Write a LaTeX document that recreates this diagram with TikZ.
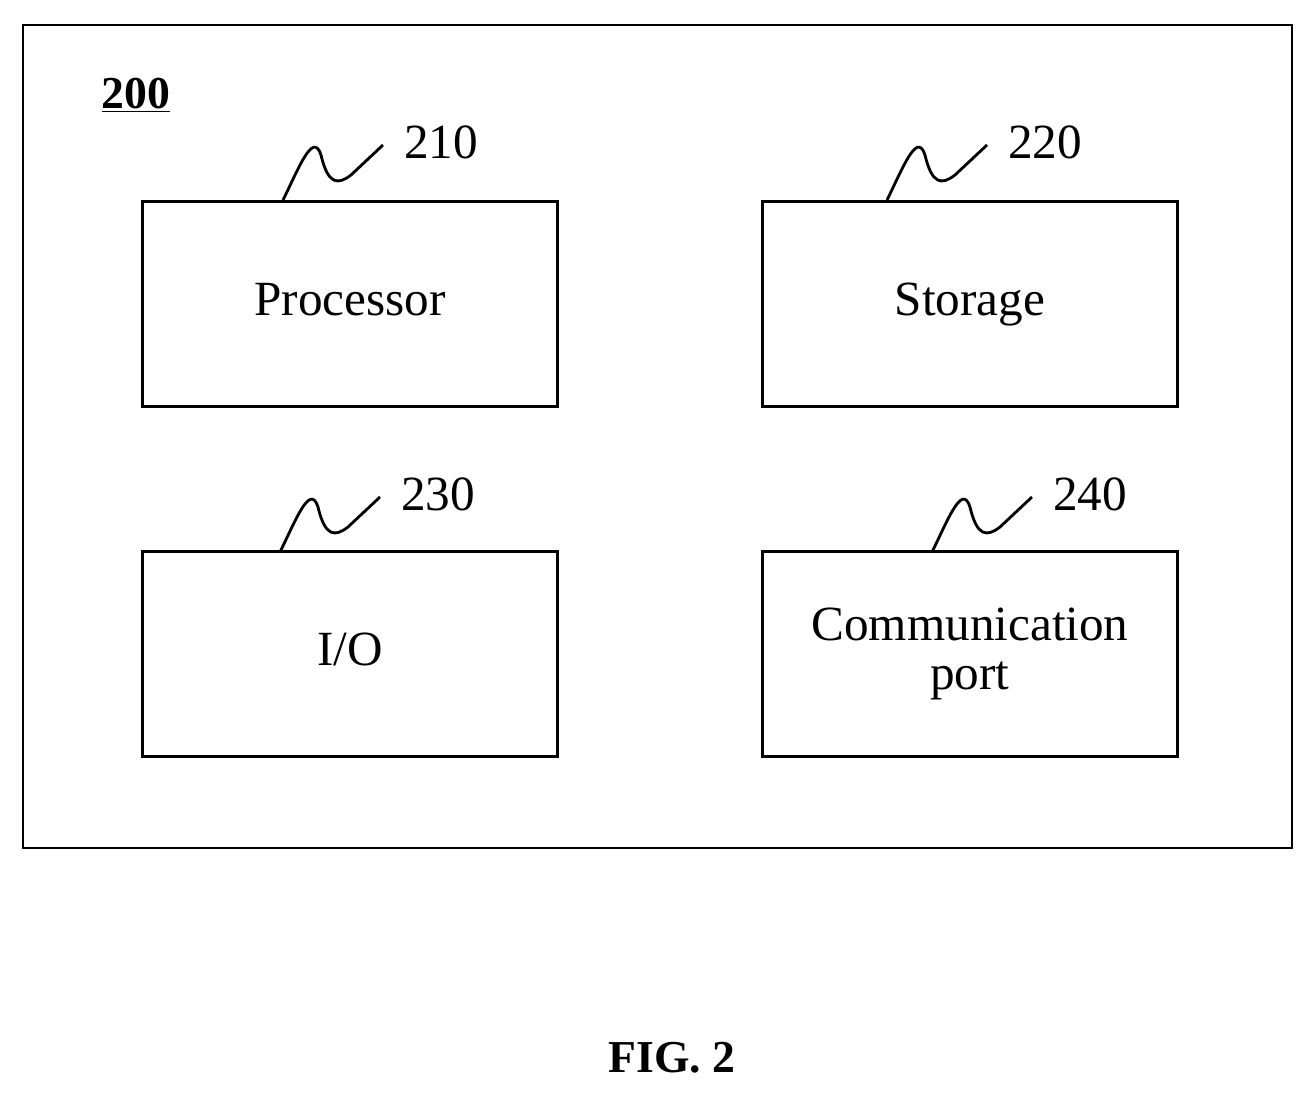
\documentclass[tikz,border=0pt]{standalone}
\usepackage{fontspec}
\setmainfont{Liberation Serif}
\begin{document}
\begin{tikzpicture}[x=0.02cm,y=-0.02cm,
    unit/.style={draw,line width=1.6pt,minimum width=8.3cm,minimum height=4.1cm,
      align=center,font=\fontsize{28}{32}\selectfont},
    tag/.style={font=\fontsize{28}{32}\selectfont,anchor=west},
    lead/.style={line width=1.6pt}]
    \useasboundingbox (0,0) rectangle (1315,1094);
    \draw[line width=1.6pt] (23,25) rectangle (1292,848);
    \node[font=\bfseries\fontsize{26}{30}\selectfont] (sys) at (136,95) {\underline{200}};

    % the four units
    \node[unit] (proc) at (350,304) {Processor\strut};
    \node[unit] (stor) at (970,304) {Storage\strut};
    \node[unit] (io) at (350,654) {I/O\strut};
    \node[unit] (comm) at (970,654) {Communication\\[-4pt]port};

    % reference numerals with wavy leaders
    \foreach \u/\n/\x/\y in {proc/210/283/200, stor/220/887/200, io/230/280/552, comm/240/932/552} {
        \coordinate (\u-e) at (\x+100,\y-55);
        \node[tag] (\u-t) at (\x+115,\y-58) {\n};
        \draw[lead] (\x,\y) .. controls (\x+15,\y-30) and (\x+30,\y-70) .. (\x+38,\y-45)
            .. controls (\x+45,\y-15) and (\x+55,\y-15) .. (\x+68,\y-25)
            -- (\u-e);
    }

    \node[font=\bfseries\fontsize{26}{30}\selectfont] (fig) at (672,1058) {FIG. 2};
\end{tikzpicture}
\end{document}
